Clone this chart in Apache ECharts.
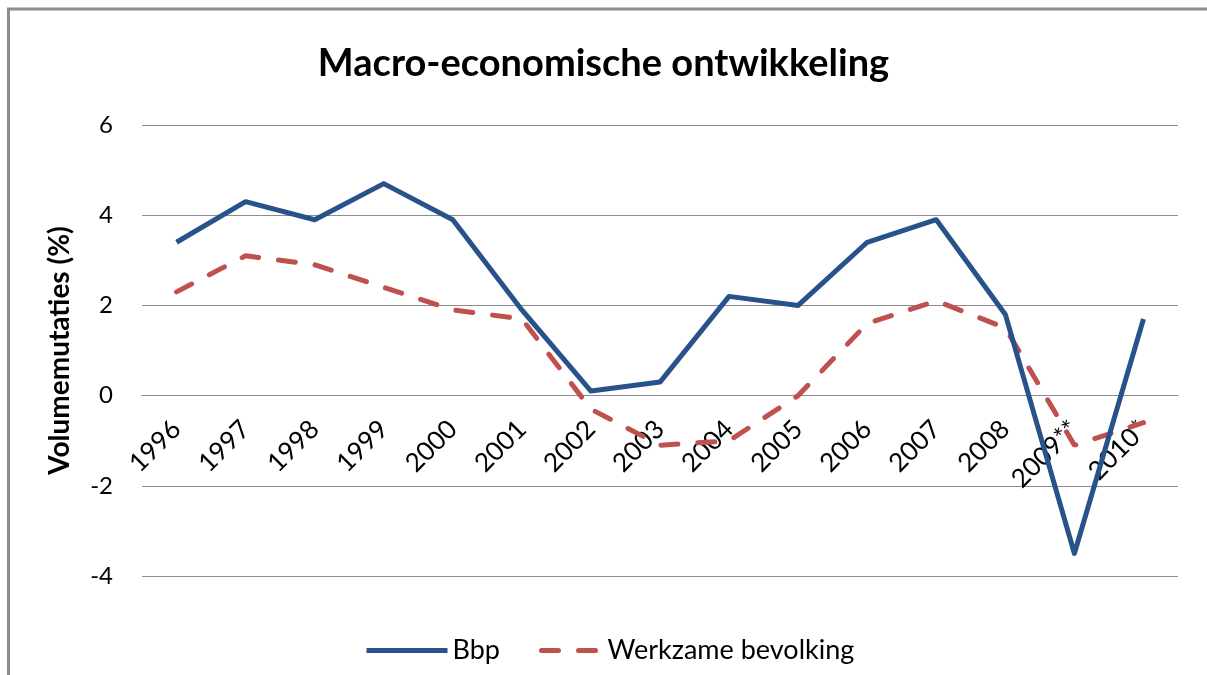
<!DOCTYPE html>
<html lang="nl">
<head>
    <meta charset="UTF-8">
    <title>Macro-economische ontwikkeling</title>
    <style>
        html, body { margin: 0; padding: 0; background: #fff; }
    </style>
</head>
<body>
<div id="chart" style="width: 1207px;height: 675px;"></div>
<script src="https://cdn.jsdelivr.net/npm/echarts@6/dist/echarts.min.js"></script>
<script>
    var years = ['1996', '1997', '1998', '1999', '2000', '2001', '2002', '2003',
        '2004', '2005', '2006', '2007', '2008', '2009**', '2010*'];
    var bbp = [3.4, 4.3, 3.9, 4.7, 3.9, 1.9, 0.1, 0.3, 2.2, 2.0, 3.4, 3.9, 1.8, -3.5, 1.7];
    var werkzaam = [2.3, 3.1, 2.9, 2.4, 1.9, 1.7, -0.3, -1.1, -1.0, 0.0, 1.6, 2.1, 1.5, -1.1, -0.6];

    var font = 'Lato, "Open Sans", sans-serif';
    var blue = '#28528a';
    var red = '#c0504d';

    function showChart () {
        var chart = echarts.init(document.getElementById('chart'));
        var legendBase = {
            top: 632,
            itemHeight: 24,
            itemStyle: {opacity: 0},
            lineStyle: {width: 5},
            textStyle: {fontFamily: font, fontSize: 27, color: '#000'}
        };
        var option = {
            backgroundColor: '#fff',
            animation: false,
            // frame of the embedded chart (left and top edge visible)
            graphic: [
                {type: 'line', shape: {x1: 8.5, y1: 9, x2: 8.5, y2: 700}, style: {stroke: '#8c8c8c', lineWidth: 3}},
                {type: 'line', shape: {x1: 7, y1: 9, x2: 1210, y2: 9}, style: {stroke: '#8c8c8c', lineWidth: 3}}
            ],
            title: {
                text: 'Macro-economische ontwikkeling',
                left: 'center',
                top: 40,
                textStyle: {
                    fontFamily: font,
                    fontSize: 38,
                    fontWeight: 'bold',
                    color: '#000'
                }
            },
            legend: [
                echarts.util.extend({
                    left: 359,
                    itemWidth: 81,
                    data: ['Bbp']
                }, legendBase),
                echarts.util.extend({
                    left: 534,
                    itemWidth: 61,
                    data: ['Werkzame bevolking'],
                    textStyle: {fontFamily: font, fontSize: 27, color: '#000', padding: [0, 0, 0, 30]}
                }, legendBase)
            ],
            grid: {
                left: 142,
                right: 29,
                top: 125,
                bottom: 99,
                containLabel: false
            },
            xAxis: {
                type: 'category',
                data: years,
                boundaryGap: true,
                offset: -181,
                axisLine: {onZero: true, lineStyle: {color: '#8c8c8c', width: 1}},
                axisTick: {show: false},
                axisLabel: {
                    rotate: 45,
                    interval: 0,
                    margin: 30,
                    fontFamily: font,
                    fontSize: 26,
                    color: '#000'
                }
            },
            yAxis: {
                type: 'value',
                min: -4,
                max: 6,
                interval: 2,
                name: 'Volumemutaties (%)',
                nameLocation: 'middle',
                nameGap: 68,
                nameTextStyle: {fontFamily: font, fontSize: 28, fontWeight: 'bold', color: '#000'},
                axisLine: {show: false},
                axisTick: {show: false},
                axisLabel: {margin: 29, fontFamily: font, fontSize: 24, color: '#000'},
                splitLine: {lineStyle: {color: '#8c8c8c', width: 1}}
            },
            series: [
                {
                    name: 'Bbp',
                    type: 'line',
                    data: bbp,
                    symbol: 'none',
                    z: 3,
                    lineStyle: {color: blue, width: 5, join: 'round'},
                    itemStyle: {color: blue}
                },
                {
                    name: 'Werkzame bevolking',
                    type: 'line',
                    data: werkzaam,
                    symbol: 'none',
                    z: 2,
                    lineStyle: {color: red, width: 5, type: [17, 20], cap: 'round'},
                    itemStyle: {color: red}
                }
            ]
        };
        chart.setOption(option);
    }

    showChart();
</script>
</body>
</html>
